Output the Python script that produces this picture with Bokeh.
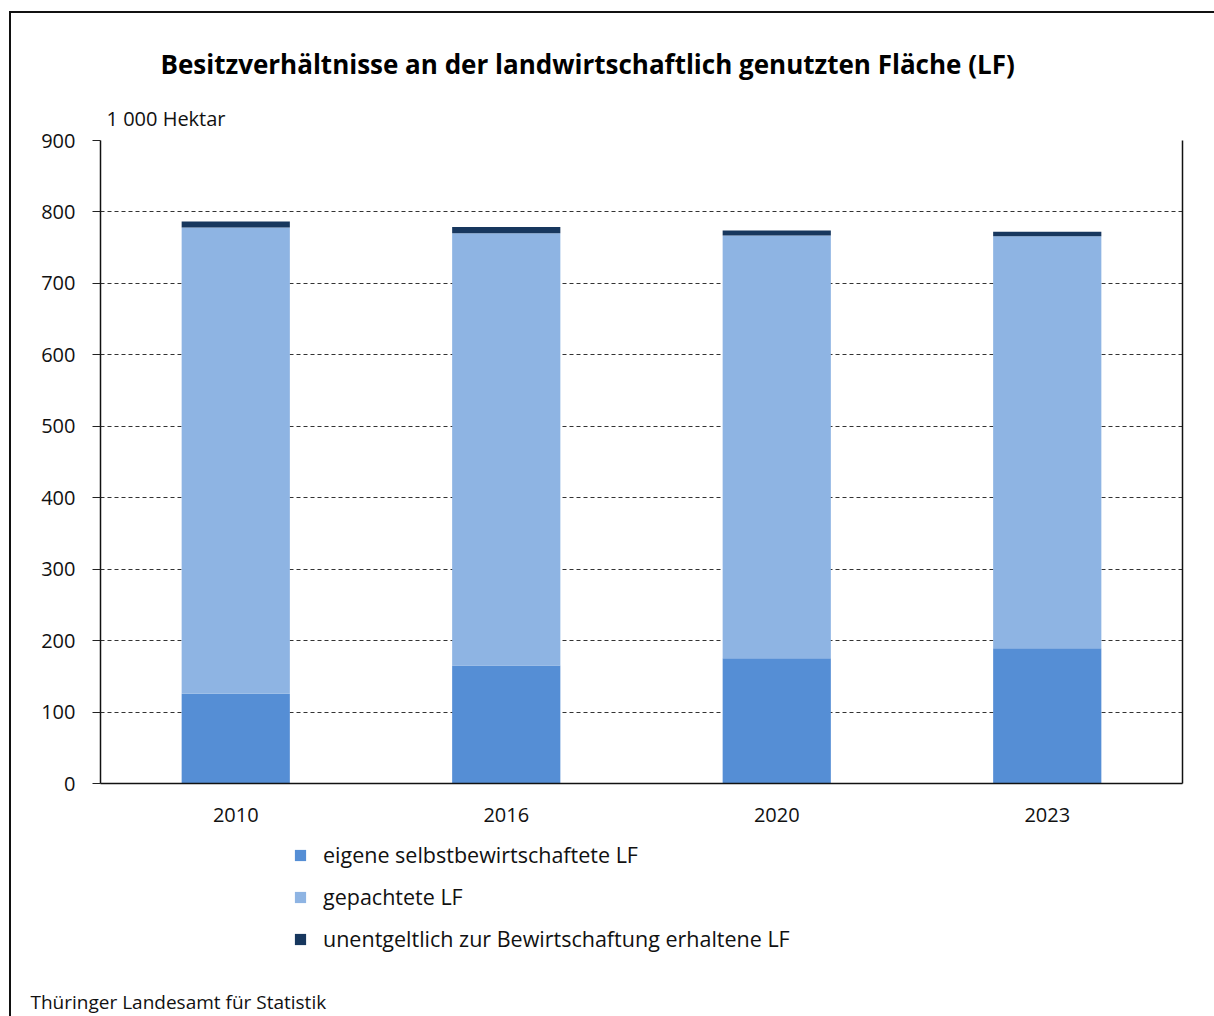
from bokeh.plotting import figure
from bokeh.layouts import column
from bokeh.models import (ColumnDataSource, Legend, LegendItem, Title, LinearAxis,
                          FixedTicker, FactorRange, Range1d)
from bokeh.embed import file_html
from bokeh.resources import INLINE

years = ["2010", "2016", "2020", "2023"]
eigene = [125.5, 165.2, 175.4, 189.4]
gepachtet = [652.8, 605.1, 591.6, 576.6]
unentgeltlich = [8.4, 8.7, 7.0, 6.2]
series = ["eigene", "gepachtet", "unentgeltlich"]
series_labels = ["eigene selbstbewirtschaftete LF", "gepachtete LF",
                 "unentgeltlich zur Bewirtschaftung erhaltene LF"]
colors = ["#558ED5", "#8EB4E3", "#17375E"]
y_ticks = [0, 100, 200, 300, 400, 500, 600, 700, 800, 900]

title_text = "Besitzverhältnisse an der landwirtschaftlich genutzten Fläche (LF)"
unit_text = "1 000 Hektar"
source_text = "Thüringer Landesamt für Statistik"

FONT = "Open Sans"
TXT = "#111111"

src = ColumnDataSource(dict(years=years, eigene=eigene, gepachtet=gepachtet,
                            unentgeltlich=unentgeltlich))

# ---- main chart ----
p = figure(x_range=FactorRange(*years, range_padding=0), y_range=Range1d(0, 900),
           frame_width=1082, frame_height=643,
           min_border_left=89, min_border_right=32, min_border_top=127, min_border_bottom=50,
           output_backend="svg", toolbar_location=None, outline_line_color=None)

rs = p.vbar_stack(series, x="years", width=0.4, source=src, color=colors,
                  line_color=None)

p.yaxis.ticker = FixedTicker(ticks=y_ticks)
p.yaxis.minor_tick_line_color = None
p.yaxis.major_tick_out = 8
p.yaxis.major_tick_in = 0
p.yaxis.major_tick_line_color = "#222"
p.yaxis.axis_line_color = "#111"
p.yaxis.axis_line_width = 1.5
p.yaxis.major_label_standoff = 17
p.yaxis.major_label_text_font = FONT
p.yaxis.major_label_text_font_size = "20px"
p.yaxis.major_label_text_color = TXT

p.xaxis.major_tick_line_color = None
p.xaxis.minor_tick_line_color = None
p.xaxis.axis_line_color = "#111"
p.xaxis.axis_line_width = 1.5
p.xaxis.major_label_standoff = 18
p.xaxis.major_label_text_font = FONT
p.xaxis.major_label_text_font_size = "20px"
p.xaxis.major_label_text_color = TXT

right_axis = LinearAxis(ticker=FixedTicker(ticks=[]), axis_line_color="#111",
                        axis_line_width=1.5, major_tick_line_color=None,
                        minor_tick_line_color=None, major_label_text_font_size="0px")
p.add_layout(right_axis, "right")

p.xgrid.grid_line_color = None
p.ygrid.grid_line_color = "#333"
p.ygrid.grid_line_dash = "4 3"
p.ygrid.grid_line_width = 1

p.add_layout(Title(text=unit_text, align="left", offset=6, standoff=18,
                   text_font=FONT, text_font_size="20px", text_font_style="normal",
                   text_color=TXT), "above")
p.add_layout(Title(text=title_text, align="left", offset=60, standoff=24,
                   text_font=FONT, text_font_size="26px", text_font_style="bold",
                   text_color="#000"), "above")

# ---- legend + source panel ----
p2 = figure(x_range=FactorRange(*years, range_padding=0), y_range=Range1d(0, 1),
            frame_width=1082, frame_height=150,
            min_border_left=89, min_border_right=32, min_border_top=0, min_border_bottom=33,
            x_axis_location=None, y_axis_location=None,
            output_backend="svg", toolbar_location=None, outline_line_color=None)
p2.grid.visible = False
# zero-height swatch renderers (legend keys only, same data source)
swatches = [p2.vbar(x="years", top=0, bottom=0, width=0.4, source=src,
                    fill_color=c, line_color=None) for c in colors]

legend = Legend(items=[LegendItem(label=series_labels[i], renderers=[swatches[i]]) for i in range(3)],
                location=(193, 30), orientation="vertical",
                padding=0, margin=0, spacing=13, border_line_color=None,
                background_fill_alpha=0, glyph_width=14, glyph_height=14,
                label_height=20, label_standoff=16,
                label_text_font=FONT, label_text_font_size="21.5px", label_text_color=TXT)
p2.add_layout(legend, "center")

p2.add_layout(Title(text=source_text, align="left", offset=-70, standoff=7,
                    text_font=FONT, text_font_size="19px", text_font_style="normal",
                    text_color=TXT), "below")

layout = column(p, p2, spacing=0)
layout.styles = {"border-left": "2px solid #111", "border-top": "2px solid #111",
                 "margin-left": "9px", "margin-top": "11px"}

open("out.html", "w").write(file_html(layout, INLINE))
